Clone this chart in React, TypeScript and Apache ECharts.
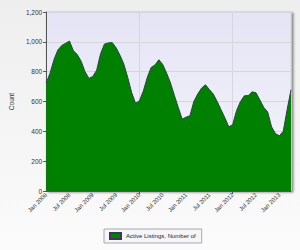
import React, { useEffect, useRef } from "react";
import * as echarts from "echarts";

const MONTHS = ["Jan", "Feb", "Mar", "Apr", "May", "Jun", "Jul", "Aug", "Sep", "Oct", "Nov", "Dec"];
const START_YEAR = 2008;
const SERIES_NAME = "Active Listings, Number of";
const Y_TITLE = "Count";

// Monthly values Jan 2008 .. Apr 2013
const values2008 = [724, 790, 880, 945, 975, 990, 1005, 940, 915, 870, 800, 755];
const values2009 = [768, 810, 920, 985, 993, 995, 960, 910, 850, 760, 660, 588];
const values2010 = [605, 670, 760, 828, 845, 880, 848, 790, 724, 640, 560, 482];
const values2011 = [495, 505, 600, 650, 690, 712, 680, 650, 600, 545, 490, 430];
const values2012 = [445, 540, 600, 638, 640, 665, 658, 610, 560, 530, 430, 385];
const values2013 = [370, 400, 545, 679];

const values = [...values2008, ...values2009, ...values2010, ...values2011, ...values2012, ...values2013];
const categories = values.map((_, i) => `${MONTHS[i % 12]} ${START_YEAR + Math.floor(i / 12)}`);

const FONT = "'Liberation Sans', 'DejaVu Sans', sans-serif";

export default function App() {
  const ref = useRef<HTMLDivElement>(null);
  useEffect(() => {
    if (!ref.current) return;
    const chart = echarts.init(ref.current, undefined, { renderer: "svg" });
    chart.setOption({
      animation: false,
      textStyle: { fontFamily: FONT },
      grid: {
        left: 46,
        right: 9,
        top: 12,
        bottom: 59,
        show: true,
        borderWidth: 1,
        borderColor: "#d4d4d4",
        backgroundColor: {
          type: "linear", x: 0, y: 0, x2: 0, y2: 1,
          colorStops: [
            { offset: 0, color: "#e4e4f5" },
            { offset: 1, color: "#f6f6fb" },
          ],
        },
        shadowColor: "rgba(0,0,0,0.45)",
        shadowOffsetX: 2,
        shadowOffsetY: 1,
        shadowBlur: 2,
      },
      legend: {
        data: [{ name: SERIES_NAME, icon: "rect" }],
        left: 104,
        top: 229,
        itemWidth: 11,
        itemHeight: 6,
        itemGap: 4,
        padding: [3, 6, 3, 5],
        borderColor: "#a8a8a8",
        borderWidth: 1,
        backgroundColor: "#f6f6fa",
        textStyle: { fontSize: 6, color: "#222", fontFamily: FONT },
      },
      xAxis: {
        type: "category",
        data: categories,
        boundaryGap: false,
        axisLine: { lineStyle: { color: "#555", width: 1 } },
        axisTick: {
          show: true,
          length: 3,
          interval: (i: number) => i > 0 && i % 24 === 0,
          lineStyle: { color: "#555" },
        },
        axisLabel: {
          interval: 5,
          rotate: 45,
          fontSize: 6,
          color: "#333",
          margin: 3,
        },
        splitLine: {
          show: true,
          interval: (i: number) => i > 0 && i % 24 === 0,
          lineStyle: { color: "#d6d6de", width: 1 },
        },
      },
      yAxis: {
        type: "value",
        min: 0,
        max: 1200,
        interval: 200,
        name: Y_TITLE,
        nameLocation: "middle",
        nameGap: 30,
        nameTextStyle: { fontSize: 6.5, color: "#333" },
        axisLine: { show: true, lineStyle: { color: "#555", width: 1 } },
        axisTick: { show: true, length: 3, lineStyle: { color: "#555" } },
        axisLabel: {
          fontSize: 6.5,
          color: "#333",
          margin: 4,
          formatter: (v: number) => v.toLocaleString("en-US"),
        },
        splitLine: { show: true, lineStyle: { color: "#d6d6de", width: 1 } },
      },
      series: [
        {
          name: SERIES_NAME,
          type: "line",
          data: values,
          symbol: "none",
          smooth: false,
          lineStyle: { color: "#3a3a55", width: 1 },
          itemStyle: { color: "#008000", borderColor: "#3a3a55", borderWidth: 0.5 },
          areaStyle: { color: "#008000", opacity: 1 },
        },
      ],
    });
    return () => chart.dispose();
  }, []);
  return (
    <div
      ref={ref}
      style={{
        position: "fixed",
        left: 0,
        top: 0,
        width: 300,
        height: 250,
        background: "linear-gradient(#eeeeee, #fbfbfb)",
      }}
    />
  );
}
